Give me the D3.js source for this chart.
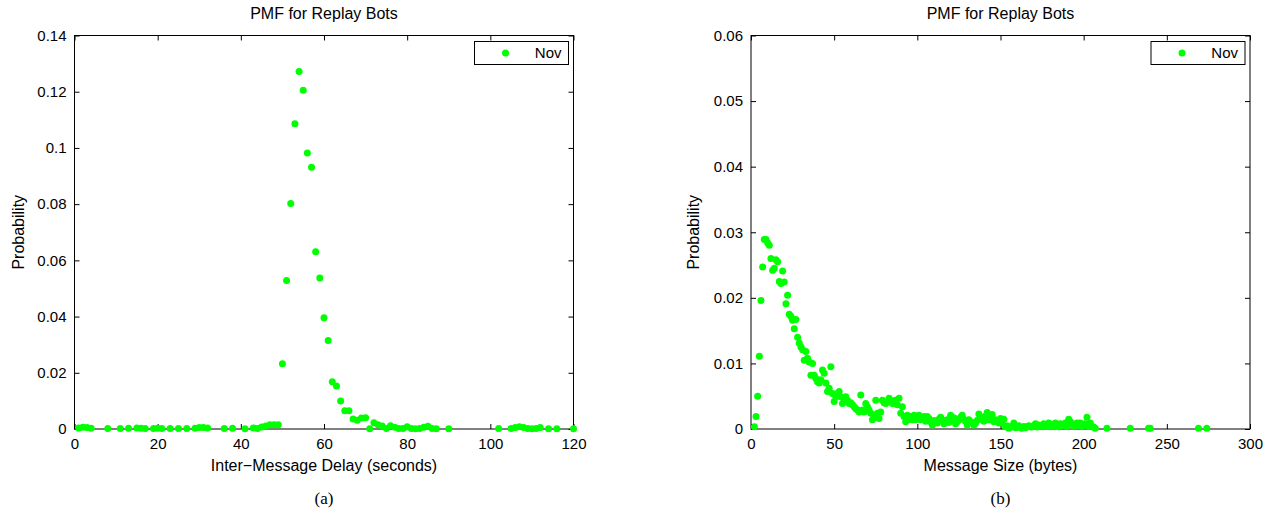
<!DOCTYPE html>
<html>
<head>
<meta charset="utf-8">
<script src="https://cdn.jsdelivr.net/npm/d3@7.9.0/dist/d3.min.js"></script>
<style>
  body { margin: 0; background: #fff; }
  svg { display: block; font-family: "Liberation Sans", Arial, sans-serif; }
  .tick text { font-size: 15px; fill: #000; }
</style>
</head>
<body>
<svg id="chart" width="1276" height="523"></svg>
<script>
// Panel (a): inter-message delay PMF
const delaySec = [1, 2, 3, 4, 8, 11, 13, 15, 16, 17, 19, 20, 21, 23, 25, 27, 29, 30, 31, 32,
  36, 38, 41, 43, 44, 45, 46, 47, 48, 49, 50, 51, 52, 53, 54, 55, 56, 57, 58, 59,
  60, 61, 62, 63, 64, 65, 66, 67, 68, 69, 70, 71, 72, 73, 74, 75, 76, 77, 78, 79,
  80, 81, 82, 83, 84, 85, 86, 87, 90, 102, 105, 106, 107, 108, 109, 110, 111, 112, 114, 116, 120];
const delayProb = [0.0004, 0.0006, 0.0005, 0.0003, 0.0002, 0.0002, 0.0003, 0.0004, 0.0003, 0.0002,
  0.0002, 0.0003, 0.0002, 0.0002, 0.0002, 0.0002, 0.0003, 0.0005, 0.0005, 0.0004,
  0.0002, 0.0003, 0.0001, 0.0004, 0.0002, 0.0007, 0.0011, 0.0015, 0.0015, 0.0015,
  0.0232, 0.0528, 0.0802, 0.1086, 0.1272, 0.1205, 0.0982, 0.0931, 0.0631, 0.0537,
  0.0396, 0.0315, 0.0168, 0.0153, 0.0100, 0.0065, 0.0065, 0.0036, 0.0031, 0.0039,
  0.0040, 0.0001, 0.0022, 0.0015, 0.0011, 0.0002, 0.0012, 0.0006, 0.0002, 0.0002,
  0.0008, 0.0002, 0.0001, 0.0002, 0.0006, 0.0010, 0.0002, 0.0001, 0.0001, 0.0002,
  0.0002, 0.0005, 0.0008, 0.0005, 0.0002, 0.0001, 0.0002, 0.0005, 0.0001, 0.0001, 0.0001];

// Panel (b): message size PMF
const sizeBytes = [2, 3, 4, 5, 6, 7, 8, 9, 10, 11, 12, 13, 14, 15, 16, 17, 18, 19, 20,
  21, 22, 23, 24, 25, 26, 27, 28, 29, 30, 31, 32, 33, 34, 35, 36, 37, 38, 39, 40,
  41, 42, 43, 44, 45, 46, 47, 48, 49, 50, 51, 52, 53, 54, 55, 56, 57, 58, 59, 60,
  61, 62, 63, 64, 65, 66, 67, 68, 69, 70, 71, 72, 73, 74, 75, 76, 77, 78, 79, 80,
  81, 82, 83, 84, 85, 86, 87, 88, 89, 90, 91, 92, 93, 94, 95, 96, 97, 98, 99, 101,
  102, 103, 104, 105, 106, 107, 108, 109, 110, 111, 112, 113, 114, 115, 116, 117, 118, 119, 120,
  121, 122, 123, 124, 125, 126, 127, 128, 129, 130, 131, 132, 133, 134, 135, 136, 137, 138, 139, 140,
  141, 142, 143, 144, 145, 146, 147, 148, 149, 150, 151, 152, 153, 154, 155, 156, 157, 158, 159, 160,
  161, 162, 163, 164, 165, 166, 167, 168, 169, 170, 171, 172, 173, 174, 175, 176, 177, 178, 179, 180,
  181, 182, 183, 184, 185, 186, 187, 188, 189, 190, 191, 192, 193, 194, 195, 196, 197, 198, 199, 200,
  201, 202, 203, 204, 205, 206, 207, 214, 228, 239, 240, 269, 274];
const sizeProb = [0.00035, 0.0019, 0.0050, 0.0111, 0.0196, 0.0247, 0.0289, 0.0289, 0.0284, 0.0280,
  0.0260, 0.0242, 0.0245, 0.0258, 0.0255, 0.0225, 0.0222, 0.0241, 0.0224,
  0.0191, 0.0204, 0.0175, 0.0172, 0.0166, 0.0153, 0.0167, 0.0140, 0.0131, 0.0125,
  0.0121, 0.0105, 0.0118, 0.0108, 0.0102, 0.0082, 0.0100, 0.0082, 0.0077, 0.0072,
  0.0070, 0.0075, 0.0090, 0.0085, 0.0070, 0.0057, 0.0062, 0.0095, 0.0054, 0.0042,
  0.0049, 0.0054, 0.0057, 0.0049, 0.0039, 0.0045, 0.0049, 0.0044, 0.0039, 0.0040,
  0.0037, 0.0034, 0.0031, 0.0029, 0.0026, 0.0052, 0.0029, 0.0026, 0.0039, 0.0034,
  0.0029, 0.0024, 0.0014, 0.0018, 0.0044, 0.0024, 0.0016, 0.0026, 0.0044, 0.0040,
  0.0039, 0.0042, 0.0047, 0.0042, 0.0039, 0.0043, 0.0044, 0.0037, 0.0047, 0.0024,
  0.0034, 0.0019, 0.0011, 0.0021, 0.0014, 0.0019, 0.0014, 0.0021, 0.0014, 0.0021,
  0.0014, 0.0017, 0.0019, 0.0012, 0.0019, 0.0016, 0.0011, 0.0006, 0.0013, 0.0011, 0.0009, 0.0015, 0.0018, 0.0014, 0.0008, 0.0011, 0.0014, 0.0010, 0.0021,
  0.0013, 0.0017, 0.0008, 0.0011, 0.0014, 0.0018, 0.0021, 0.0015, 0.0012, 0.0006, 0.0014, 0.0011, 0.0010, 0.0006, 0.0009, 0.0013, 0.0023, 0.0018, 0.0015, 0.0012,
  0.0020, 0.0025, 0.0014, 0.0016, 0.0022, 0.0011, 0.0014, 0.0012, 0.0009, 0.0016, 0.0010, 0.0015, 0.00035, 0.0005, 0.0001, 0.0003, 0.0004, 0.0009, 0.0002, 0.00035,
  0.0005, 0.0002, 0.0001, 0.0004, 0.0002, 0.00035, 0.0005, 0.0003, 0.00035, 0.0005, 0.0008, 0.0003, 0.0006, 0.0005, 0.00035, 0.0008, 0.0006, 0.0004, 0.0009, 0.0006,
  0.00035, 0.0007, 0.0009, 0.0004, 0.00035, 0.0008, 0.0006, 0.0005, 0.0009, 0.0004, 0.0015, 0.0011, 0.0008, 0.0004, 0.0006, 0.0009, 0.0005, 0.0009, 0.0004, 0.0006,
  0.0008, 0.0018, 0.0004, 0.0009, 0.0004, 0.0003, 0.0001, 0.0001, 0.0001, 0.0001, 0.0001, 0.0001, 0.0001];

const delayTicksX = [0, 20, 40, 60, 80, 100, 120];
const delayTicksY = [0, 0.02, 0.04, 0.06, 0.08, 0.1, 0.12, 0.14];
const sizeTicksX = [0, 50, 100, 150, 200, 250, 300];
const sizeTicksY = [0, 0.01, 0.02, 0.03, 0.04, 0.05, 0.06];

const svg = d3.select("#chart");
const green = "#00ff00";

function drawPanel(opts) {
  const { left, right, top, bottom } = opts.box;
  const x = d3.scaleLinear().domain(opts.xDomain).range([left, right]);
  const y = d3.scaleLinear().domain(opts.yDomain).range([bottom, top]);
  const g = svg.append("g");

  // mirrored MATLAB-style ticks, pointing inward
  const fmt = d3.format("~g");
  g.append("g").attr("transform", `translate(0,${bottom})`)
    .call(d3.axisBottom(x).tickValues(opts.xTicks).tickSizeInner(-5).tickSizeOuter(0).tickPadding(9).tickFormat(fmt));
  g.append("g").attr("transform", `translate(0,${top})`)
    .call(d3.axisTop(x).tickValues(opts.xTicks).tickSizeInner(-5).tickSizeOuter(0).tickFormat(""));
  g.append("g").attr("transform", `translate(${left},0)`)
    .call(d3.axisLeft(y).tickValues(opts.yTicks).tickSizeInner(-5).tickSizeOuter(0).tickPadding(8).tickFormat(fmt));
  g.append("g").attr("transform", `translate(${right},0)`)
    .call(d3.axisRight(y).tickValues(opts.yTicks).tickSizeInner(-5).tickSizeOuter(0).tickFormat(""));
  g.selectAll(".domain").remove();
  g.selectAll(".tick line").attr("stroke", "#000");

  g.append("rect")
    .attr("x", left).attr("y", top)
    .attr("width", right - left).attr("height", bottom - top)
    .attr("fill", "none").attr("stroke", "#000").attr("stroke-width", 1);

  // points
  g.append("g").selectAll("circle")
    .data(opts.xs.map((v, i) => [v, opts.ys[i]]))
    .join("circle")
    .attr("cx", d => x(d[0]))
    .attr("cy", d => y(d[1]))
    .attr("r", 3.5)
    .attr("fill", green);

  const cx = (left + right) / 2;
  g.append("text").attr("x", cx).attr("y", 19)
    .attr("text-anchor", "middle").attr("font-size", 16).text("PMF for Replay Bots");
  g.append("text").attr("x", cx).attr("y", 471)
    .attr("text-anchor", "middle").attr("font-size", 16).text(opts.xLabel);
  g.append("text")
    .attr("transform", `translate(${opts.yLabelX},${(top + bottom) / 2}) rotate(-90)`)
    .attr("text-anchor", "middle").attr("font-size", 16).text("Probability");
  g.append("text").attr("x", cx).attr("y", 504)
    .attr("text-anchor", "middle").attr("font-size", 17)
    .attr("font-family", "'Liberation Serif', 'Times New Roman', serif").text(opts.caption);

  // legend
  const lg = opts.legend;
  g.append("rect")
    .attr("x", lg.x).attr("y", lg.y).attr("width", lg.w).attr("height", lg.h)
    .attr("fill", "#fff").attr("stroke", "#000");
  g.append("circle").attr("cx", lg.x + lg.w * 0.33).attr("cy", lg.y + lg.h / 2)
    .attr("r", 3.5).attr("fill", green);
  g.append("text").attr("x", lg.x + lg.w - 7).attr("y", lg.y + lg.h / 2 + 5)
    .attr("text-anchor", "end").attr("font-size", 15).text("Nov");
}

drawPanel({
  box: { left: 74.5, right: 573.5, top: 35.5, bottom: 429 },
  xDomain: [0, 120], yDomain: [0, 0.14],
  xTicks: delayTicksX, yTicks: delayTicksY,
  xs: delaySec, ys: delayProb,
  xLabel: "Inter\u2212Message Delay (seconds)",
  yLabelX: 24, caption: "(a)",
  legend: { x: 474.5, y: 41.5, w: 94, h: 23 }
});

drawPanel({
  box: { left: 751, right: 1250, top: 35.5, bottom: 429 },
  xDomain: [0, 300], yDomain: [0, 0.06],
  xTicks: sizeTicksX, yTicks: sizeTicksY,
  xs: sizeBytes, ys: sizeProb,
  xLabel: "Message Size (bytes)",
  yLabelX: 699, caption: "(b)",
  legend: { x: 1151, y: 41.5, w: 94, h: 23 }
});
</script>
</body>
</html>
